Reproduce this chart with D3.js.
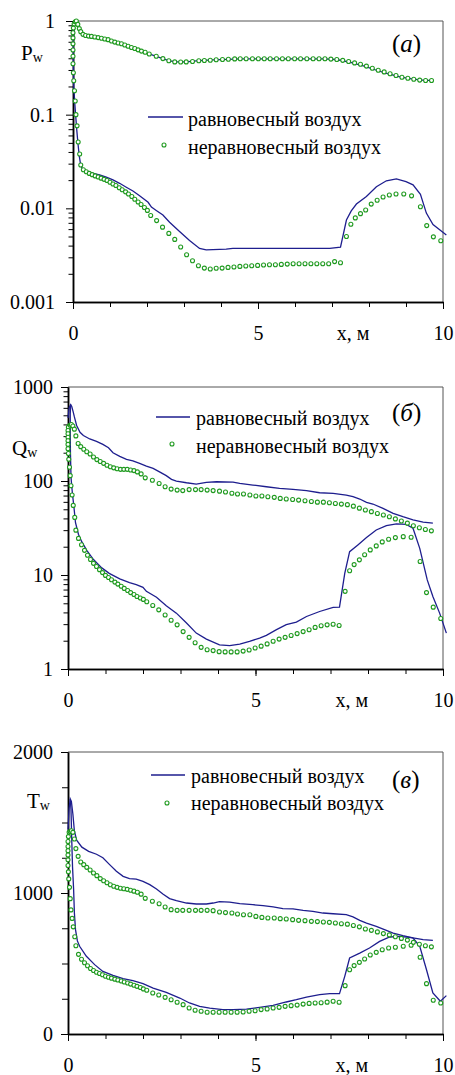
<!DOCTYPE html>
<html>
<head>
<meta charset="utf-8">
<script src="https://cdn.jsdelivr.net/npm/d3@7"></script>
<style>
  body { margin: 0; background: #fff; }
  svg text { font-family: 'Liberation Serif', 'Times New Roman', serif; fill: #000; }
</style>
</head>
<body>
<div id="chart"></div>
<script>
// x grid of the computed points (m): windward side, from the stagnation point on
const xWind = [0.06, 0.09, 0.13, 0.17,
  0.21, 0.27, 0.34, 0.42, 0.5, 0.59, 0.68, 0.77, 0.86, 0.95,
  1.04, 1.13, 1.22, 1.31, 1.4, 1.49, 1.58, 1.67, 1.76, 1.85, 1.95, 2.06,
  2.25, 2.43, 2.59, 2.75, 2.91, 3.06, 3.23, 3.4, 3.55, 3.71,
  3.87, 4.04, 4.2, 4.37, 4.52, 4.68, 4.85, 5.01, 5.17, 5.33,
  5.5, 5.66, 5.82, 5.99, 6.15, 6.32, 6.49, 6.65, 6.81, 6.97,
  7.13, 7.29, 7.45, 7.61, 7.77, 7.93, 8.09, 8.25, 8.41, 8.57,
  8.73, 8.89, 9.05, 9.21, 9.37, 9.53, 9.69];

// leeward side: round the nose first, then along the surface
const xLee = [0.03, 0.01, 0, 0, 0, 0, 0, 0, 0.01, 0.02, 0.04, 0.06, 0.08, 0.11, 0.14, 0.18, 0.21,
  0.28, 0.36, 0.44, 0.52, 0.6, 0.68, 0.76, 0.84, 0.92, 1.0, 1.08, 1.16, 1.25, 1.33, 1.42, 1.5,
  1.59, 1.67, 1.76, 1.84, 1.93, 2.01, 2.1,
  2.26, 2.42, 2.59, 2.75, 2.91, 3.07, 3.23, 3.39, 3.55, 3.71, 3.87, 4.03, 4.19, 4.35, 4.51, 4.67,
  4.83, 4.99, 5.15, 5.31, 5.47, 5.63, 5.79, 5.95, 6.11, 6.27, 6.43, 6.59, 6.75, 6.91, 7.07, 7.23,
  7.39, 7.51, 7.63, 7.77, 7.91, 8.06, 8.22, 8.38, 8.55, 8.73, 8.94, 9.15, 9.39, 9.56, 9.74, 9.94];

// non-equilibrium air (markers)
const pWindNeq = [0.98, 1.0, 0.92, 0.83,
  0.77, 0.72, 0.70, 0.69, 0.685, 0.675, 0.665, 0.655, 0.642, 0.632,
  0.612, 0.595, 0.583, 0.572, 0.555, 0.538, 0.522, 0.508, 0.492, 0.477, 0.464, 0.445,
  0.42, 0.397, 0.377, 0.366, 0.365, 0.366, 0.369, 0.377, 0.378, 0.381,
  0.386, 0.388, 0.39, 0.394, 0.395, 0.395, 0.395, 0.395, 0.395, 0.395,
  0.395, 0.395, 0.395, 0.395, 0.395, 0.395, 0.395, 0.395, 0.395, 0.392,
  0.388, 0.38, 0.369, 0.357, 0.345, 0.33, 0.313, 0.298, 0.286, 0.273,
  0.262, 0.251, 0.245, 0.239, 0.234, 0.232, 0.232];
const pLeeNeq = [0.93, 0.84, 0.75, 0.66, 0.57, 0.49, 0.42, 0.35, 0.28, 0.23, 0.18, 0.14, 0.10, 0.076, 0.051, 0.038, 0.029,
  0.0258, 0.0246, 0.0236, 0.0229, 0.0222, 0.0216, 0.0210, 0.0204, 0.0198, 0.0190, 0.0182, 0.0175, 0.0166, 0.0158, 0.0150, 0.0142,
  0.0134, 0.0125, 0.0117, 0.0110, 0.0102, 0.0095, 0.0084,
  0.0074, 0.0063, 0.0054, 0.00466, 0.00386, 0.0032, 0.00276, 0.00244, 0.0023, 0.00225, 0.00229, 0.0023, 0.00234, 0.00236, 0.0024, 0.00242,
  0.00244, 0.00246, 0.00248, 0.0025, 0.0025, 0.00252, 0.00254, 0.00256, 0.00256, 0.00256, 0.00256, 0.00256, 0.00256, 0.00256, 0.0027, 0.00262,
  0.005, 0.00677, 0.0079, 0.00878, 0.00961, 0.0111, 0.0122, 0.0132, 0.0139, 0.0142, 0.0142, 0.0136, 0.0104, 0.00654, 0.00496, 0.0045];

const qWindNeq = [392, 399, 385, 356,
  302, 251, 232, 218, 205, 194, 180, 169, 161, 154,
  147, 142, 138, 135, 133, 133, 133, 131, 129, 125, 119, 108,
  102, 94, 87, 82, 80, 79, 81, 81, 81, 80,
  79, 78, 76.3, 74, 72.6, 72.6, 71, 69.2, 69.2, 68,
  67, 65.3, 64.3, 63.6, 62.6, 61.6, 60.6, 59.6, 59.6, 58.6,
  57.7, 56.8, 56, 54, 51.4, 49.2, 47.2, 45.1, 43.5, 41.6,
  39.5, 37.6, 35.6, 33.4, 31.8, 30.5, 29.5];
const qLeeNeq = [385, 372, 345, 318, 292, 268, 245, 220, 196, 170, 140, 114, 89, 71, 55, 41, 30,
  24.5, 21, 18.3, 16.2, 14.6, 13.3, 12.3, 11.4, 10.6, 9.9, 9.4, 8.9, 8.4, 8.0, 7.6, 7.2,
  6.85, 6.5, 6.2, 5.9, 5.7, 5.5, 5.2,
  4.73, 4.26, 3.75, 3.3, 2.95, 2.5, 2.17, 1.9, 1.7, 1.6, 1.57, 1.53, 1.52, 1.52, 1.52, 1.55,
  1.59, 1.67, 1.75, 1.85, 1.97, 2.08, 2.17, 2.27, 2.38, 2.5, 2.62, 2.77, 2.88, 2.95, 2.99, 2.9,
  6.7, 11.1, 12.9, 14.5, 16.4, 18.5, 20.4, 22.5, 24, 25, 25.6, 25.2, 13.9, 6.5, 4.55, 3.45];

const tWindNeq = [1437, 1442, 1430, 1383,
  1315, 1260, 1220, 1201, 1182, 1163, 1142, 1123, 1102, 1087,
  1073, 1059, 1048, 1040, 1034, 1030, 1026, 1020, 1013, 1005, 992, 962,
  941, 924, 901, 882, 877, 877, 877, 877, 877, 877,
  875, 865, 861, 858, 851, 846, 846, 834, 827, 823,
  823, 818, 816, 811, 806, 804, 799, 797, 794, 792,
  787, 782, 779, 770, 760, 745, 735, 724, 712, 703,
  690, 678, 666, 650, 636, 626, 618];
const tLeeNeq = [1430, 1400, 1365, 1330, 1300, 1270, 1235, 1195, 1150, 1100, 1040, 960, 880, 820, 760, 690, 626,
  565, 530, 505, 484, 465, 450, 438, 429, 420, 410, 403, 396, 389, 383, 376, 369,
  362, 354, 346, 338, 330, 320, 310,
  291, 277, 260, 243, 225, 208, 184, 168, 161, 154, 154, 154, 154, 154, 154, 156,
  161, 165, 173, 177, 184, 189, 196, 201, 205, 212, 217, 220, 222, 226, 232, 225,
  343, 456, 485, 508, 532, 560, 579, 598, 610, 615, 622, 629, 544, 357, 239, 220];

// equilibrium air (lines), [x, value]
const pWindEq = [[0.08, 1.0], [0.12, 0.9], [0.18, 0.78], [0.27, 0.72], [0.4, 0.69], [0.6, 0.675], [0.8, 0.65],
  [1.0, 0.625], [1.2, 0.585], [1.4, 0.555], [1.6, 0.52], [1.8, 0.485], [2.06, 0.445], [2.25, 0.42], [2.43, 0.397],
  [2.6, 0.376], [2.8, 0.367], [3.06, 0.367], [3.4, 0.377], [3.8, 0.385], [4.2, 0.39], [4.5, 0.394], [6.8, 0.394],
  [7.07, 0.388], [7.23, 0.381], [7.55, 0.357], [7.87, 0.33], [8.2, 0.298], [8.5, 0.274], [8.86, 0.251],
  [9.19, 0.239], [9.5, 0.232], [9.7, 0.232]];
const pLeeEq = [[0.08, 1.0], [0.03, 0.88], [0.01, 0.6], [0.01, 0.35], [0.02, 0.2], [0.05, 0.13], [0.07, 0.1],
  [0.1, 0.07], [0.135, 0.049], [0.17, 0.036], [0.21, 0.0286], [0.27, 0.0257], [0.45, 0.0241], [0.72, 0.0227],
  [0.9, 0.0215], [1.08, 0.0201], [1.26, 0.0185], [1.44, 0.0168], [1.62, 0.0153], [1.8, 0.0136], [2.03, 0.0116],
  [2.12, 0.0103], [2.25, 0.0095], [2.43, 0.0085], [2.61, 0.0071], [2.88, 0.00566], [3.15, 0.00454],
  [3.42, 0.00373], [3.6, 0.00361], [4.14, 0.00367], [4.32, 0.00373], [6.94, 0.00373], [7.23, 0.00385],
  [7.39, 0.0075], [7.52, 0.0094], [7.66, 0.0111], [7.93, 0.0134], [8.2, 0.017], [8.47, 0.0197], [8.74, 0.0206],
  [9.0, 0.0193], [9.19, 0.0178], [9.39, 0.0141], [9.55, 0.0089], [9.73, 0.0067], [9.91, 0.0059], [10.09, 0.0052]];

const qWindEq = [[0, 470], [0.03, 600], [0.07, 650], [0.1, 620], [0.14, 540], [0.17, 480], [0.23, 390], [0.32, 330],
  [0.41, 305], [0.58, 280], [0.76, 264], [0.93, 245], [1.08, 226], [1.2, 200], [1.38, 183], [1.56, 170], [1.73, 164],
  [1.91, 154], [2.09, 144], [2.27, 136], [2.44, 125], [2.62, 114], [2.76, 104], [2.89, 99.8], [3.16, 95.8],
  [3.42, 92.7], [3.69, 96.6], [3.96, 98.2], [4.4, 97.4], [4.58, 94.2], [4.93, 90.5], [5.29, 86.9], [5.64, 83.4],
  [6.0, 81.4], [6.36, 78.8], [6.71, 75], [7.07, 73.8], [7.42, 70.9], [7.6, 68], [7.78, 64.3], [7.96, 59.2],
  [8.13, 56.9], [8.4, 51.2], [8.67, 45.3], [8.93, 41.7], [9.2, 38.5], [9.47, 36.6], [9.73, 35.7]];
const qLeeEq = [[0.07, 650], [0.06, 520], [0.06, 300], [0.065, 200], [0.08, 110], [0.1, 88], [0.12, 72], [0.16, 52],
  [0.2, 36], [0.28, 27], [0.37, 22.5], [0.5, 18.3], [0.68, 14.6], [0.9, 11.9], [1.1, 10.4], [1.38, 9.1], [1.64, 8.3],
  [1.82, 7.9], [2.0, 7.4], [2.09, 6.7], [2.36, 5.8], [2.62, 4.7], [2.89, 3.93], [3.16, 3.08], [3.42, 2.41],
  [3.69, 2.08], [4.04, 1.81], [4.31, 1.77], [4.58, 1.84], [4.84, 1.97], [5.11, 2.13], [5.29, 2.28], [5.56, 2.62],
  [5.82, 2.96], [6.09, 3.16], [6.36, 3.62], [6.71, 4.09], [7.07, 4.52], [7.24, 4.55], [7.38, 10.4], [7.51, 17.7],
  [7.73, 20.9], [7.96, 25], [8.22, 30.1], [8.49, 33.5], [8.76, 34.9], [9.02, 34.6], [9.2, 31.4], [9.38, 19.2],
  [9.58, 8.87], [9.73, 5.9], [9.91, 3.93], [10.09, 2.41]];

const tWindEq = [[0, 1450], [0.03, 1600], [0.06, 1667], [0.09, 1650], [0.13, 1560], [0.17, 1440], [0.23, 1375],
  [0.37, 1325], [0.55, 1295], [0.76, 1275], [0.93, 1250], [1.11, 1201], [1.29, 1154], [1.47, 1118], [1.64, 1102],
  [1.82, 1099], [2.0, 1083], [2.18, 1059], [2.36, 1028], [2.53, 993], [2.71, 960], [2.89, 946], [3.16, 929],
  [3.42, 922], [3.69, 922], [3.87, 929], [4.04, 939], [4.31, 936], [4.58, 924], [4.93, 917], [5.2, 910],
  [5.47, 901], [5.73, 889], [6.0, 887], [6.27, 877], [6.53, 870], [6.8, 858], [7.07, 853], [7.42, 846],
  [7.6, 830], [7.78, 806], [7.96, 787], [8.22, 764], [8.49, 735], [8.67, 716], [8.93, 697], [9.2, 681],
  [9.47, 669], [9.73, 664]];
const tLeeEq = [[0.06, 1667], [0.08, 1590], [0.1, 1378], [0.12, 1189], [0.15, 1023], [0.17, 860], [0.2, 740],
  [0.25, 660], [0.31, 622], [0.49, 551], [0.71, 492], [0.93, 444], [1.2, 416], [1.47, 392], [1.73, 378],
  [2.0, 357], [2.27, 326], [2.62, 295], [2.98, 255], [3.24, 220], [3.51, 196], [3.78, 184], [4.13, 173],
  [4.4, 173], [4.76, 177], [5.11, 189], [5.47, 203], [5.82, 227], [6.09, 243], [6.36, 262], [6.71, 279],
  [6.98, 286], [7.24, 286], [7.38, 409], [7.51, 539], [7.78, 574], [8.04, 610], [8.31, 657], [8.58, 688],
  [8.84, 693], [9.2, 681], [9.38, 622], [9.56, 456], [9.73, 291], [9.93, 232], [10.09, 272]];

// axis ticks and labels
const xTicks = [0, 1, 2, 3, 4, 5, 6, 7, 8, 9, 10];
const xTickLabels = [0, 5, 10];
const pTicks = [0.001, 0.01, 0.1, 1];
const qTicks = [1, 10, 100, 1000];
const tTicks = [0, 1000, 2000];
const tMinorTicks = [250, 500, 750, 1250, 1500, 1750];
const legendNames = ['равновесный воздух', 'неравновесный воздух'];

const lineColor = '#1e1e8e';
const dotColor = '#1f9a1f';
const font = 20;

const svg = d3.select('#chart').append('svg')
    .attr('width', 455)
    .attr('height', 1075);

const panels = [
  { left: 73, right: 443, top: 21, bottom: 302, log: true, domain: [0.001, 1], major: pTicks, pad: 11,
    wind: pWindNeq, lee: pLeeNeq, windEq: pWindEq, leeEq: pLeeEq, title: 'P', tx: 21, ty: 60, tag: 'а', tagY: 52,
    leg: { x1: 148, x2: 183, ly: 117, tx: 188, t1: 126, t2: 154, mx: 164, my: 145 } },
  { left: 68, right: 443, top: 387, bottom: 669, log: true, domain: [1, 1000], major: qTicks, pad: 8,
    wind: qWindNeq, lee: qLeeNeq, windEq: qWindEq, leeEq: qLeeEq, title: 'Q', tx: 12, ty: 455, tag: 'б', tagY: 421,
    leg: { x1: 156, x2: 190, ly: 417, tx: 196, t1: 425, t2: 453, mx: 172, my: 444 } },
  { left: 68, right: 443, top: 752, bottom: 1034, log: false, domain: [0, 2000], major: tTicks, minor: tMinorTicks, pad: 8,
    wind: tWindNeq, lee: tLeeNeq, windEq: tWindEq, leeEq: tLeeEq, title: 'T', tx: 27, ty: 808, tag: 'в', tagY: 788,
    leg: { x1: 151, x2: 185, ly: 775, tx: 191, t1: 783, t2: 810, mx: 167, my: 803 } }
];

panels.forEach(drawPanel);

function styleAxis( sel ) {
  sel.attr( 'font-family', null ).attr( 'font-size', null );
  sel.select( '.domain' ).attr( 'stroke', '#000' ).attr( 'stroke-width', 1.5 );
  sel.selectAll( '.tick line' ).attr( 'stroke', '#000' ).attr( 'stroke-width', 1 );
  sel.selectAll( 'text' ).style( 'font-size', font + 'px' );
}

function drawPanel( p ) {
  const g = svg.append( 'g' );
  const x = d3.scaleLinear().domain( [0, 10] ).range( [p.left, p.right] );
  const y = ( p.log ? d3.scaleLog() : d3.scaleLinear() ).domain( p.domain ).range( [p.bottom, p.top] );

  // top and right edges of the frame
  g.append( 'path' )
      .attr( 'd', 'M' + x.range()[0] + ',' + y.range()[1] + 'H' + x.range()[1] + 'V' + y.range()[0] )
      .attr( 'fill', 'none' )
      .attr( 'stroke', '#555' )
      .attr( 'stroke-width', 1 );

  // Y axis: minor ticks, then major ticks with labels
  const minor = p.log
    ? y.ticks().filter( v => Math.abs( Math.log10( v ) - Math.round( Math.log10( v ) ) ) > 1e-6 )
    : p.minor;
  g.append( 'g' )
      .attr( 'transform', 'translate(' + p.left + ',0)' )
      .call( d3.axisLeft( y ).tickValues( minor ).tickSize( p.log ? 4.5 : 6 ).tickFormat( '' ).tickSizeOuter( 0 ) )
      .call( styleAxis );
  g.append( 'g' )
      .attr( 'transform', 'translate(' + p.left + ',0)' )
      .call( d3.axisLeft( y ).tickValues( p.major ).tickSize( 7 ).tickPadding( p.pad ).tickFormat( d => String( d ) ).tickSizeOuter( 0 ) )
      .call( styleAxis );

  // X axis
  g.append( 'g' )
      .attr( 'transform', 'translate(0,' + p.bottom + ')' )
      .call( d3.axisBottom( x ).tickValues( xTicks ).tickSize( 5 ).tickFormat( '' ).tickSizeOuter( 0 ) )
      .call( styleAxis );
  g.append( 'g' )
      .attr( 'transform', 'translate(0,' + p.bottom + ')' )
      .call( d3.axisBottom( x ).tickValues( xTickLabels ).tickSize( 7 ).tickPadding( 17 ).tickFormat( d3.format( 'd' ) ).tickSizeOuter( 0 ) )
      .call( styleAxis );
  g.append( 'text' )
      .attr( 'x', x( 7.57 ) )
      .attr( 'y', p.bottom + 24 )
      .attr( 'dy', '0.71em' )
      .attr( 'text-anchor', 'middle' )
      .style( 'font-size', font + 'px' )
      .text( 'x, м' );

  // equilibrium air: lines
  const line = d3.line().x( d => x( d[0] ) ).y( d => y( d[1] ) );
  [p.leeEq, p.windEq].forEach( s => {
    g.append( 'path' )
        .datum( s )
        .attr( 'd', line )
        .attr( 'fill', 'none' )
        .attr( 'stroke', lineColor )
        .attr( 'stroke-width', 1.3 );
  });

  // non-equilibrium air: open circles
  const pts = d3.zip( xLee, p.lee ).concat( d3.zip( xWind, p.wind ) );
  g.append( 'g' ).selectAll( 'circle' )
      .data( pts )
      .join( 'circle' )
        .attr( 'cx', d => x( d[0] ) )
        .attr( 'cy', d => y( d[1] ) )
        .attr( 'r', 2 )
        .attr( 'fill', '#fff' )
        .attr( 'stroke', dotColor )
        .attr( 'stroke-width', 1.1 );

  // legend
  const L = p.leg;
  g.append( 'line' )
      .attr( 'x1', L.x1 ).attr( 'x2', L.x2 ).attr( 'y1', L.ly ).attr( 'y2', L.ly )
      .attr( 'stroke', lineColor ).attr( 'stroke-width', 1.3 );
  g.append( 'circle' )
      .attr( 'cx', L.mx ).attr( 'cy', L.my ).attr( 'r', 2 )
      .attr( 'fill', '#fff' ).attr( 'stroke', dotColor ).attr( 'stroke-width', 1.1 );
  g.selectAll( 'text.leg' )
      .data( legendNames )
      .join( 'text' )
        .attr( 'class', 'leg' )
        .attr( 'x', L.tx )
        .attr( 'y', ( d, i ) => i ? L.t2 : L.t1 )
        .style( 'font-size', font + 'px' )
        .text( d => d );

  // axis title with subscript
  const t = g.append( 'text' )
      .attr( 'x', p.tx )
      .attr( 'y', p.ty )
      .style( 'font-size', '21px' );
  t.append( 'tspan' ).text( p.title );
  t.append( 'tspan' ).attr( 'dy', 2 ).style( 'font-size', '14px' ).text( 'w' );

  // panel tag
  const tag = g.append( 'text' )
      .attr( 'x', 392 )
      .attr( 'y', p.tagY )
      .style( 'font-size', '25px' );
  tag.append( 'tspan' ).text( '(' );
  tag.append( 'tspan' ).style( 'font-style', 'italic' ).text( p.tag );
  tag.append( 'tspan' ).text( ')' );
}
</script>
</body>
</html>
